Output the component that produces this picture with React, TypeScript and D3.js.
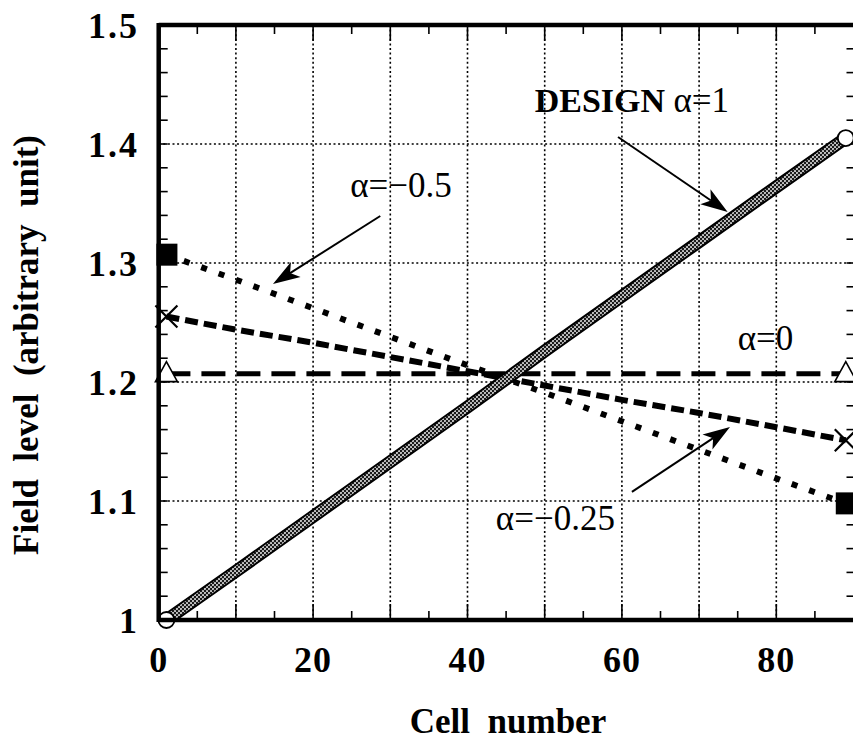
import React from 'react';
import * as d3 from 'd3';

// ---- data ----
const cells = [1, 10, 20, 30, 40, 50, 60, 70, 80, 89];
const designAlpha1 = [1.0, 1.041, 1.087, 1.133, 1.179, 1.226, 1.272, 1.318, 1.364, 1.405];
const alpha0 = [1.207, 1.207, 1.207, 1.207, 1.207, 1.207, 1.207, 1.207, 1.207, 1.207];
const alphaM025 = [1.255, 1.244, 1.233, 1.221, 1.209, 1.197, 1.185, 1.174, 1.162, 1.151];
const alphaM05 = [1.307, 1.286, 1.262, 1.238, 1.214, 1.191, 1.167, 1.143, 1.119, 1.098];

const xTickLabels = [0, 20, 40, 60, 80];
const yTickLabels = [1, 1.1, 1.2, 1.3, 1.4, 1.5];
const xGrid = [10, 20, 30, 40, 50, 60, 70, 80];
const yGrid = [1.1, 1.2, 1.3, 1.4];

// annotations in data coordinates
const annotations = [
  { text: 'α=−0.5', bold: '', x: 24.8, y: 1.3555, anchor: 'start' },
  { text: 'α=1', bold: 'DESIGN ', x: 48.7, y: 1.4269, anchor: 'start' },
  { text: 'α=0', bold: '', x: 75.0, y: 1.2269, anchor: 'start' },
  { text: 'α=−0.25', bold: '', x: 59.1, y: 1.0756, anchor: 'end' },
];
const arrows = [
  { x1: 59.5, y1: 1.4059, x2: 73.7, y2: 1.3429 },
  { x1: 28.7, y1: 1.3395, x2: 14.8, y2: 1.2824 },
  { x1: 61.3, y1: 1.1076, x2: 74.0, y2: 1.1622 },
];

const W = 853;
const H = 740;
const x = d3.scaleLinear().domain([0, 90]).range([158.7, 853.5]);
const y = d3.scaleLinear().domain([1, 1.5]).range([620, 25]);

type Series = { name: string; values: number[]; dash: string; width: number; marker: string };
const series: Series[] = [
  { name: 'alpha0', values: alpha0, dash: '24,11', width: 5, marker: 'triangle' },
  { name: 'alphaM025', values: alphaM025, dash: '13,6', width: 6, marker: 'cross' },
  { name: 'alphaM05', values: alphaM05, dash: '6,12.5', width: 6, marker: 'square' },
];

const line = d3
  .line<number>()
  .x((_, i) => x(cells[i]))
  .y((d) => y(d));

function Marker({ type, cx, cy }: { type: string; cx: number; cy: number }) {
  if (type === 'circle')
    return <circle cx={cx} cy={cy} r={8} fill="white" stroke="black" strokeWidth={1.8} />;
  if (type === 'triangle')
    return (
      <path
        d={`M${cx},${cy - 12}L${cx + 11},${cy + 8}L${cx - 11},${cy + 8}Z`}
        fill="white"
        stroke="black"
        strokeWidth={1.6}
      />
    );
  if (type === 'square')
    return <rect x={cx - 10} y={cy - 11} width={21} height={22} fill="black" />;
  return (
    <path
      d={`M${cx - 11},${cy - 11}L${cx + 11},${cy + 11}M${cx + 11},${cy - 11}L${cx - 11},${cy + 11}`}
      stroke="black"
      strokeWidth={2.2}
    />
  );
}

function Arrow({ x1, y1, x2, y2 }: { x1: number; y1: number; x2: number; y2: number }) {
  const px1 = x(x1), py1 = y(y1), px2 = x(x2), py2 = y(y2);
  const ang = Math.atan2(py2 - py1, px2 - px1);
  const len = 27, hw = 9;
  const bx = px2 - len * Math.cos(ang);
  const by = py2 - len * Math.sin(ang);
  const nx = -Math.sin(ang), ny = Math.cos(ang);
  const innerX = px2 - len * 0.75 * Math.cos(ang);
  const innerY = py2 - len * 0.75 * Math.sin(ang);
  return (
    <g>
      <line x1={px1} y1={py1} x2={innerX} y2={innerY} stroke="black" strokeWidth={2} />
      <path
        d={`M${px2},${py2}L${bx + nx * hw},${by + ny * hw}L${innerX},${innerY}L${bx - nx * hw},${by - ny * hw}Z`}
        fill="black"
      />
    </g>
  );
}

export default function App() {
  const left = x(0), right = x(90), top = y(1.5), bottom = y(1);
  const rightAxis = right + 3;
  const xMinor = d3.range(5, 90, 5);
  const yMinor = d3.range(1.02, 1.5, 0.02);
  return (
    <svg
      width={W}
      height={H}
      style={{ position: 'absolute', left: 0, top: 0, background: 'white' }}
      fontFamily="'Liberation Serif', 'Times New Roman', serif"
    >
      <defs>
        <pattern id="dots" width="4" height="4" patternUnits="userSpaceOnUse">
          <rect width="4" height="4" fill="#1a1a1a" />
          <circle cx="1" cy="1" r="1.05" fill="#d0d0d0" />
          <circle cx="3" cy="3" r="1.05" fill="#d0d0d0" />
        </pattern>
      </defs>
      <rect width={W} height={H} fill="white" />

      {/* grid */}
      {xGrid.map((v) => (
        <line key={'gx' + v} x1={x(v)} x2={x(v)} y1={top} y2={bottom} stroke="black" strokeWidth={1.6} strokeDasharray="2,2.6" />
      ))}
      {yGrid.map((v) => (
        <line key={'gy' + v} x1={left} x2={rightAxis} y1={y(v)} y2={y(v)} stroke="black" strokeWidth={1.6} strokeDasharray="2,2.6" />
      ))}

      {/* ticks */}
      {xMinor.map((v) => (
        <g key={'tx' + v}>
          <line x1={x(v)} x2={x(v)} y1={bottom} y2={bottom - (v % 10 === 0 ? 16 : 9)} stroke="black" strokeWidth={1.6} />
          <line x1={x(v)} x2={x(v)} y1={top} y2={top + (v % 10 === 0 ? 16 : 9)} stroke="black" strokeWidth={1.6} />
        </g>
      ))}
      {yMinor.map((v) => (
        <g key={'ty' + v.toFixed(2)}>
          <line x1={left} x2={left + 9} y1={y(v)} y2={y(v)} stroke="black" strokeWidth={1.6} />
          <line x1={rightAxis} x2={rightAxis - 10} y1={y(v)} y2={y(v)} stroke="black" strokeWidth={1.6} />
        </g>
      ))}

      {/* alpha series */}
      {series.map((s) => (
        <path key={s.name} d={line(s.values) || ''} fill="none" stroke="black" strokeWidth={s.width} strokeDasharray={s.dash} />
      ))}

      {/* design band */}
      <path d={line(designAlpha1) || ''} fill="none" stroke="black" strokeWidth={13} />
      <path d={line(designAlpha1) || ''} fill="none" stroke="url(#dots)" strokeWidth={9} />

      {/* markers */}
      {series.map((s) => (
        <g key={'m' + s.name}>
          <Marker type={s.marker} cx={x(cells[0])} cy={y(s.values[0])} />
          <Marker type={s.marker} cx={x(cells[cells.length - 1])} cy={y(s.values[s.values.length - 1])} />
        </g>
      ))}
      <Marker type="circle" cx={x(cells[0])} cy={y(designAlpha1[0])} />
      <Marker type="circle" cx={x(cells[cells.length - 1])} cy={y(designAlpha1[designAlpha1.length - 1])} />

      {/* axes frame */}
      <line x1={left} x2={left} y1={top - 2} y2={bottom + 2} stroke="black" strokeWidth={4.5} />
      <line x1={left} x2={rightAxis + 4} y1={top} y2={top} stroke="black" strokeWidth={4.5} />
      <line x1={left} x2={rightAxis + 4} y1={bottom} y2={bottom} stroke="black" strokeWidth={4.5} />
      <line x1={rightAxis + 2} x2={rightAxis + 2} y1={top} y2={bottom} stroke="black" strokeWidth={4.5} />

      {/* tick labels */}
      {xTickLabels.map((v) => (
        <text key={'xl' + v} x={x(v)} y={672} textAnchor="middle" fontSize={36} fontWeight="bold" letterSpacing={1}>
          {v}
        </text>
      ))}
      {yTickLabels.map((v) => (
        <text key={'yl' + v} x={139} y={y(v)} dy="0.35em" textAnchor="end" fontSize={36} fontWeight="bold" letterSpacing={2}>
          {v === 1 ? '1' : v.toFixed(1)}
        </text>
      ))}

      {/* axis titles */}
      <text x={508} y={733} textAnchor="middle" fontSize={35} fontWeight="bold" style={{ whiteSpace: 'pre' }}>
        {'Cell  number'}
      </text>
      <text
        transform={`translate(38,345) rotate(-90)`}
        textAnchor="middle"
        fontSize={35}
        fontWeight="bold"
        style={{ whiteSpace: 'pre' }}
      >
        {'Field  level  (arbitrary  unit)'}
      </text>

      {/* annotations */}
      {annotations.map((a) => (
        <text key={a.text + a.bold} x={x(a.x)} y={y(a.y)} textAnchor={a.anchor} fontSize={35}>
          {a.bold ? <tspan fontWeight="bold" fontSize={34}>{a.bold}</tspan> : null}
          {a.text}
        </text>
      ))}
      {arrows.map((a, i) => (
        <Arrow key={i} {...a} />
      ))}
    </svg>
  );
}
